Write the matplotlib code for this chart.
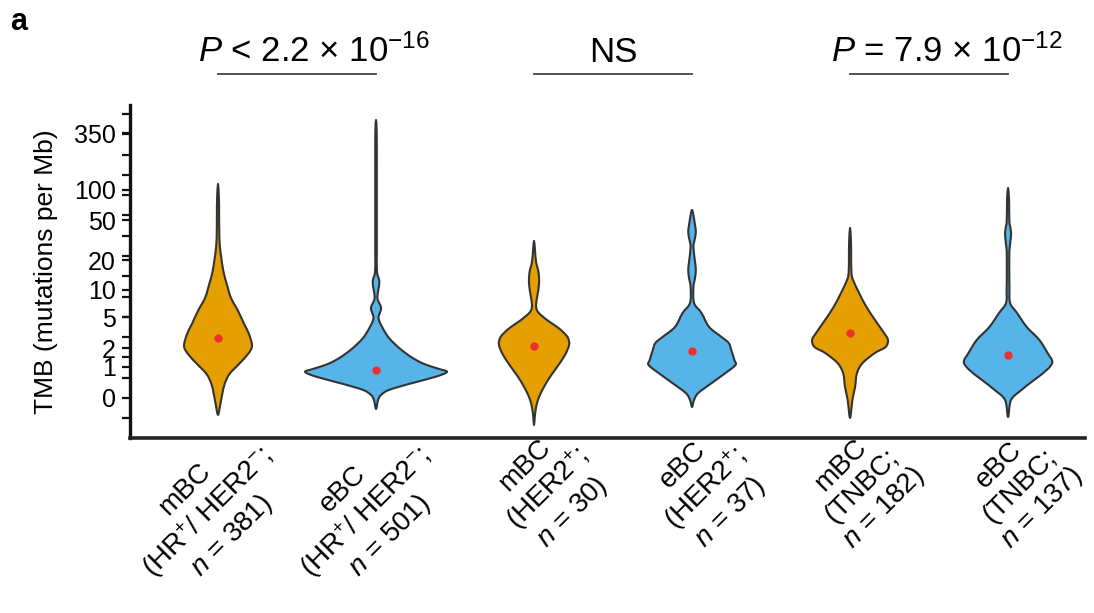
import numpy as np
import matplotlib
matplotlib.use("Agg")
import matplotlib.pyplot as plt
from matplotlib.path import Path
from matplotlib.patches import PathPatch
from matplotlib.transforms import blended_transform_factory

plt.rcParams['font.family'] = ['Liberation Sans', 'DejaVu Sans']
plt.rcParams['mathtext.fontset'] = 'custom'
plt.rcParams['mathtext.rm'] = 'Liberation Sans'
plt.rcParams['mathtext.it'] = 'Liberation Sans:italic'
plt.rcParams['mathtext.bf'] = 'Liberation Sans:bold'

# ---------------- data ----------------
categories = [
    "mBC\n(HR$^{+}$/ HER2$^{-}$;\n$n$ = 381)",
    "eBC\n(HR$^{+}$/ HER2$^{-}$;\n$n$ = 501)",
    "mBC\n(HER2$^{+}$;\n$n$ = 30)",
    "eBC\n(HER2$^{+}$;\n$n$ = 37)",
    "mBC\n(TNBC;\n$n$ = 182)",
    "eBC\n(TNBC;\n$n$ = 137)",
]
groups = ["mBC", "eBC", "mBC", "eBC", "mBC", "eBC"]

# violin density profiles: level in log10(TMB + 1), half-width (fraction of category spacing)
v1_level = [-0.163, -0.058, 0.038, 0.135, 0.231, 0.327, 0.423, 0.5, 0.615, 0.712, 0.837, 0.962, 1.087, 1.212, 1.346, 1.471, 1.6, 1.75, 1.913, 2.058]
v1_width = [0, .015, .027, .042, .073, .133, .190, .215, .196, .165, .127, .082, .057, .035, .021, .011, .008, .007, .006, 0]

v2_level = [-0.106, -0.019, 0.029, 0.077, 0.135, 0.202, 0.25, 0.279, 0.327, 0.394, 0.481, 0.577, 0.673, 0.769, 0.865, 0.962, 1.115, 1.212, 1.4, 1.6, 1.8, 2.0, 2.2, 2.4, 2.577, 2.673]
v2_width = [0, .013, .032, .082, .209, .373, .449, .399, .304, .222, .146, .082, .042, .016, .032, .009, .021, .006, .005, .005, .005, .005, .005, .005, .004, 0]

v3_level = [-0.26, -0.163, -0.067, 0.01, 0.106, 0.202, 0.298, 0.413, 0.51, 0.577, 0.625, 0.683, 0.75, 0.827, 0.894, 0.99, 1.106, 1.212, 1.308, 1.423, 1.51]
v3_width = [0, .006, .016, .032, .063, .101, .146, .196, .222, .215, .190, .146, .082, .025, .013, .022, .032, .028, .013, .006, 0]

v4_level = [-0.087, -0.019, 0.048, 0.144, 0.24, 0.317, 0.365, 0.462, 0.529, 0.587, 0.683, 0.817, 0.913, 1.067, 1.154, 1.231, 1.308, 1.452, 1.519, 1.596, 1.692, 1.808]
v4_width = [0, .013, .040, .125, .212, .275, .268, .248, .232, .186, .108, .060, .013, .009, .019, .024, .019, .009, .016, .024, .016, 0]

v5_level = [-0.192, -0.144, -0.019, 0.106, 0.24, 0.337, 0.433, 0.49, 0.558, 0.625, 0.75, 0.875, 1.01, 1.135, 1.202, 1.35, 1.5, 1.635]
v5_width = [0, .006, .015, .032, .044, .080, .158, .225, .240, .215, .158, .104, .057, .019, .009, .007, .006, 0]

v6_level = [-0.183, -0.019, 0.077, 0.173, 0.269, 0.346, 0.433, 0.558, 0.683, 0.817, 0.913, 1.05, 1.2, 1.35, 1.423, 1.519, 1.587, 1.654, 1.683, 1.8, 1.92, 2.019]
v6_width = [0, .019, .085, .165, .245, .280, .250, .198, .118, .057, .013, .009, .008, .008, .009, .016, .019, .013, .009, .007, .006, 0]

# centre points (TMB, mutations per Mb)
centre_tmb = [2.78, 0.86, 2.16, 1.83, 3.22, 1.59]

ytick_values = [0, 1, 2, 5, 10, 20, 50, 100, 350]
ytick_labels = ["0", "1", "2", "5", "10", "20", "50", "100", "350"]

comparisons = [(0, 1, r"$\it{P}$ < 2.2 × 10$^{-16}$"),
               (2, 3, "NS"),
               (4, 5, r"$\it{P}$ = 7.9 × 10$^{-12}$")]

levels = [v1_level, v2_level, v3_level, v4_level, v5_level, v6_level]
widths = [v1_width, v2_width, v3_width, v4_width, v5_width, v6_width]
colors = {"mBC": "#E69F00", "eBC": "#56B4E9"}


def smooth_closed_path(px, py):
    """Closed Catmull-Rom outline through the given points, as cubic Bezier path."""
    P = np.column_stack([px, py])
    n = len(P)
    verts = [P[0]]
    codes = [Path.MOVETO]
    for k in range(n):
        p0 = P[(k - 1) % n]
        p1 = P[k]
        p2 = P[(k + 1) % n]
        p3 = P[(k + 2) % n]
        c1 = p1 + (p2 - p0) / 6.0
        c2 = p2 - (p3 - p1) / 6.0
        verts += [c1, c2, p2]
        codes += [Path.CURVE4] * 3
    verts.append(P[0])
    codes.append(Path.CLOSEPOLY)
    return Path(np.asarray(verts), codes)


# ---------------- figure ----------------
W, H = 1094, 613
fig = plt.figure(figsize=(W / 100, H / 100), dpi=100)
ax = fig.add_axes([130 / W, 1 - 438 / H, (1085 - 130) / W, (438 - 105) / H])

for i, (lv, wd, g) in enumerate(zip(levels, widths, groups)):
    lv = np.asarray(lv)
    wd = np.asarray(wd)
    # right side bottom->top, then left side top->bottom (ends shared)
    xs = np.concatenate([i + wd, (i - wd)[-2:0:-1]])
    ys = np.concatenate([lv, lv[-2:0:-1]])
    patch = PathPatch(smooth_closed_path(xs, ys), facecolor=colors[g], edgecolor="#333333",
                      linewidth=1.5, joinstyle="round", zorder=2)
    ax.add_patch(patch)

ax.scatter(np.arange(len(centre_tmb)), np.log10(np.asarray(centre_tmb) + 1),
           s=36, color="#EE3030", zorder=3, linewidths=0)

ax.set_xlim(-0.557, 5.487)
ax.set_ylim(-0.385, 2.817)

ax.set_yticks(np.log10(np.asarray(ytick_values, dtype=float) + 1))
ax.set_yticklabels(ytick_labels, fontsize=18)
ax.set_yticks(np.arange(-1, 15) * 0.195, minor=True)
ax.tick_params(axis="y", which="both", length=6, width=1.6, direction="out", pad=4, color="#111111")
ax.set_xticks([])

for s in ["top", "right"]:
    ax.spines[s].set_visible(False)
ax.spines["left"].set_linewidth(2.4)
ax.spines["bottom"].set_linewidth(2.6)
ax.spines["left"].set_color("#111111")
ax.spines["bottom"].set_color("#222222")
ax.spines["bottom"].set_capstyle("projecting")

ax.set_ylabel("TMB (mutations per Mb)", fontsize=19, labelpad=12)

trans = blended_transform_factory(ax.transData, ax.transAxes)
for i, lab in enumerate(categories):
    ax.text(i + 18 / 158, 0.055, lab, transform=trans, rotation=45, rotation_mode="anchor",
            ha="right", va="top", multialignment="center", fontsize=20, linespacing=1.15)

for a, b, txt in comparisons:
    ax.plot([a, b], [1.093, 1.093], transform=trans, color="#444444", lw=1.3, clip_on=False)
    shift = 0.11 if txt != "NS" else 0.0
    ax.text((a + b) / 2 + shift, 1.129, txt, transform=trans, ha="center", va="baseline",
            fontsize=25)

fig.text(10 / W, 1 - 30 / H, "a", fontsize=22, fontweight="bold", ha="left", va="baseline")

fig.savefig("out.png", dpi=100)
